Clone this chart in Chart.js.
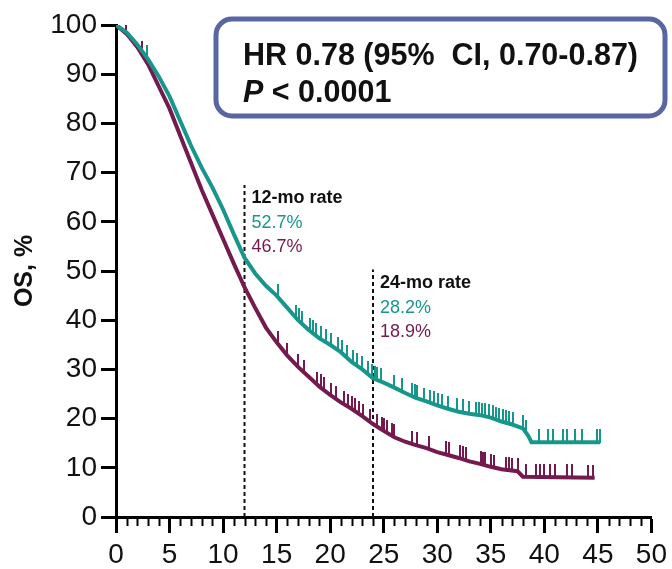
<!DOCTYPE html>
<html>
<head>
<meta charset="utf-8">
<script src="https://cdn.jsdelivr.net/npm/chart.js@4.4.1/dist/chart.umd.min.js"></script>
<style>
  body { margin: 0; background: #fff; }
  canvas { display: block; }
</style>
</head>
<body>
<canvas id="osChart" width="672" height="569"></canvas>
<script>
// KM curve: months and OS (%)
const tealMonths = [0, 1, 2, 3, 4, 5, 6, 7, 8, 9, 10, 11, 12, 13, 14, 15, 16, 17, 18, 19, 20, 21, 22, 23, 24, 25, 26, 27, 28, 29, 30, 31, 32, 33, 34, 35, 36, 37, 38, 38.5, 38.8, 45.2];
const tealOS = [100, 98.5, 96, 93, 89.5, 85.5, 80.5, 75.5, 71, 67, 62.5, 57.5, 52.7, 49.5, 47, 45, 42.5, 40, 38, 36.3, 35, 33.5, 31.5, 30, 28.2, 27.3, 26.3, 25.2, 24.2, 23.5, 22.7, 22, 21.4, 21, 20.7, 20.2, 19.4, 18.8, 18, 16.5, 15.2, 15.2];

const purpleMonths = [0, 1, 2, 3, 4, 5, 6, 7, 8, 9, 10, 11, 12, 13, 14, 15, 16, 17, 18, 19, 20, 21, 22, 23, 24, 25, 26, 27, 28, 29, 30, 31, 32, 33, 34, 35, 36, 37.5, 38, 44.7];
const purpleOS = [100, 98.2, 95.5, 92, 87.5, 83, 77.5, 72, 66.5, 61.5, 56.5, 51.5, 46.7, 42.5, 38.5, 35.5, 32.8, 30.5, 28.5, 26.5, 24.8, 23.3, 22, 20.5, 18.9, 17.5, 16.2, 15.3, 14.6, 14, 13.2, 12.6, 12, 11.3, 10.8, 10.2, 9.7, 9.3, 8.2, 8.0];

// censor marks (months)
const tealCensored = [2.9, 15.1, 16.8, 17.1, 17.4, 18.1, 18.4, 18.7, 19.1, 19.6, 20.1, 20.7, 21.1, 21.6, 22.1, 22.5, 23.0, 23.5, 23.9, 24.2, 24.4, 24.7, 26.0, 26.7, 27.6, 27.9, 28.1, 28.8, 29.3, 29.7, 30.1, 30.4, 31.0, 31.8, 32.4, 33.0, 33.6, 33.9, 34.2, 34.5, 34.8, 35.2, 35.5, 35.8, 36.1, 36.4, 36.7, 37.1, 38.0, 38.3, 39.5, 40.3, 40.8, 41.7, 42.1, 42.9, 43.5, 44.9, 45.2];
const purpleCensored = [0.2, 0.9, 2.4, 15.1, 16.0, 17.0, 17.6, 18.8, 19.1, 19.4, 20.1, 20.5, 21.3, 21.7, 22.0, 22.3, 22.7, 23.1, 23.7, 24.4, 24.8, 25.0, 25.3, 25.8, 26.0, 27.6, 28.1, 29.2, 30.8, 31.1, 32.1, 32.4, 32.7, 34.1, 34.3, 34.5, 35.0, 35.3, 36.4, 36.7, 37.0, 37.5, 38.3, 39.2, 39.6, 40.0, 40.5, 41.0, 42.1, 42.6, 44.1, 44.5];

// landmark lines and rates
const landmarkMonths = [12, 24];
const landmarkTops = [67.5, 50.3];
const landmarkTitles = ['12-mo rate', '24-mo rate'];
const tealRates = ['52.7%', '28.2%'];
const purpleRates = ['46.7%', '18.9%'];

const hrText = 'HR 0.78 (95%  CI, 0.70-0.87)';
const pText = ' < 0.0001';

const TEAL = '#17968b';
const PURPLE = '#741a4e';
const SANS = '"Liberation Sans", Arial, sans-serif';

// value of the drawn curve at month t (to sit censor ticks on the line)
function curveAt(months, os, t) {
  for (let i = 1; i < months.length; i++) {
    if (t <= months[i]) {
      const f = (t - months[i - 1]) / (months[i] - months[i - 1]);
      return os[i - 1] + f * (os[i] - os[i - 1]);
    }
  }
  return os[os.length - 1];
}

// vertical censor tick that rises from the point
function censorMark(color) {
  const c = document.createElement('canvas');
  c.width = 2;
  c.height = 26;
  const g = c.getContext('2d');
  g.fillStyle = color;
  g.fillRect(0, 0, 2, 14);
  return c;
}

const toPoints = (xs, ys) => xs.map((x, i) => ({ x, y: ys[i] }));

const datasets = [
  {
    data: toPoints(tealMonths, tealOS),
    borderColor: TEAL, borderWidth: 4, pointRadius: 0, tension: 0
  },
  {
    data: tealCensored.map(t => ({ x: t, y: curveAt(tealMonths, tealOS, t) })),
    showLine: false, pointStyle: censorMark(TEAL), pointRadius: 13
  },
  {
    data: toPoints(purpleMonths, purpleOS),
    borderColor: PURPLE, borderWidth: 4, pointRadius: 0, tension: 0
  },
  {
    data: purpleCensored.map(t => ({ x: t, y: curveAt(purpleMonths, purpleOS, t) })),
    showLine: false, pointStyle: censorMark(PURPLE), pointRadius: 13
  }
];

landmarkMonths.forEach((m, i) => {
  datasets.push({
    data: [{ x: m, y: 0 }, { x: m, y: landmarkTops[i] }],
    borderColor: '#111', borderWidth: 2, borderDash: [4, 3], pointRadius: 0
  });
});

const annotations = {
  id: 'annotations',
  afterDraw(chart) {
    const { ctx, scales: { x, y } } = chart;
    ctx.save();

    // minor ticks on the x axis
    ctx.strokeStyle = '#000';
    ctx.lineWidth = 2;
    for (let v = 0; v <= 50; v++) {
      if (v % 5 === 0) continue;
      const px = Math.round(x.getPixelForValue(v)) + 0.5;
      ctx.beginPath();
      ctx.moveTo(px, y.bottom);
      ctx.lineTo(px, y.bottom + 9);
      ctx.stroke();
    }

    // landmark labels
    landmarkMonths.forEach((m, i) => {
      const px = x.getPixelForValue(m) + 7;
      const top = y.getPixelForValue(landmarkTops[i]);
      ctx.textBaseline = 'alphabetic';
      ctx.textAlign = 'left';
      ctx.font = 'bold 18px ' + SANS;
      ctx.fillStyle = '#111';
      ctx.fillText(landmarkTitles[i], px, top + 18);
      ctx.font = '18px ' + SANS;
      ctx.fillStyle = TEAL;
      ctx.fillText(tealRates[i], px, top + 43);
      ctx.fillStyle = PURPLE;
      ctx.fillText(purpleRates[i], px, top + 67);
    });

    // HR box
    ctx.lineWidth = 5;
    ctx.strokeStyle = '#5a66a3';
    ctx.beginPath();
    ctx.roundRect(216, 19, 449, 97, 16);
    ctx.stroke();

    ctx.fillStyle = '#111';
    ctx.font = 'bold 30.5px ' + SANS;
    ctx.fillText(hrText, 243, 65);
    ctx.font = 'italic bold 30.5px ' + SANS;
    ctx.fillText('P', 243, 102);
    const pw = ctx.measureText('P').width;
    ctx.font = 'bold 30.5px ' + SANS;
    ctx.fillText(pText, 243 + pw, 102);

    ctx.restore();
  }
};

const ctx = document.getElementById('osChart').getContext('2d');
const osChart = new Chart(ctx, {
  type: 'line',
  data: { datasets },
  options: {
    responsive: false,
    animation: false,
    devicePixelRatio: 1,
    layout: { padding: { top: 25, right: 15, left: 0, bottom: 0 } },
    plugins: { legend: { display: false }, tooltip: { enabled: false } },
    scales: {
      x: {
        type: 'linear',
        min: 0,
        max: 50,
        afterFit: s => { s.height = 52; },
        border: { color: '#000', width: 3 },
        grid: {
          drawOnChartArea: false,
          tickLength: 16,
          tickWidth: 3,
          tickColor: c => (c.tick && c.tick.value % 5 === 0) ? '#000' : 'rgba(0,0,0,0)'
        },
        ticks: {
          stepSize: 1,
          autoSkip: false,
          maxRotation: 0,
          padding: 5,
          color: '#111',
          font: { family: SANS, size: 28 },
          callback: v => v % 5 === 0 ? v : ''
        }
      },
      y: {
        min: 0,
        max: 100,
        afterFit: s => { s.width = 116; },
        border: { color: '#000', width: 3 },
        grid: { drawOnChartArea: false, tickLength: 15, tickWidth: 3, tickColor: '#000' },
        ticks: {
          stepSize: 10,
          padding: 4,
          color: '#111',
          font: { family: SANS, size: 28 }
        },
        title: {
          display: true,
          text: 'OS, %',
          color: '#111',
          font: { family: SANS, size: 25, weight: 'bold' },
          padding: { top: 10, bottom: 0 }
        }
      }
    }
  },
  plugins: [annotations]
});
</script>
</body>
</html>
